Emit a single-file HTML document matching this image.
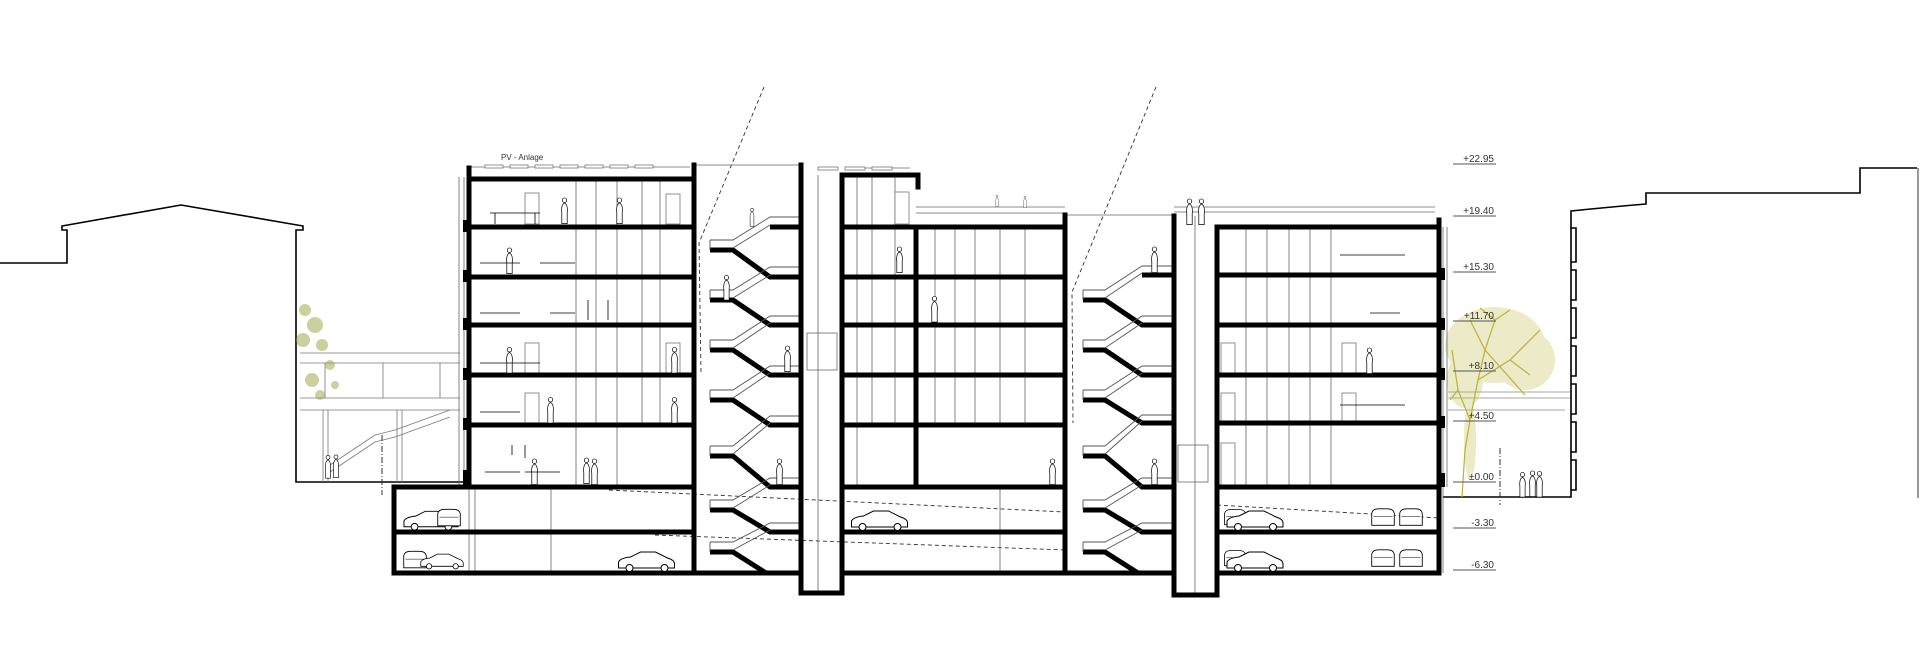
<!DOCTYPE html>
<html><head><meta charset="utf-8"><style>
html,body{margin:0;padding:0;background:#fff;}
svg{display:block;}
text{font-family:"Liberation Sans",sans-serif;fill:#333;}
</style></head><body>
<svg width="1920" height="669" viewBox="0 0 1920 669" xmlns="http://www.w3.org/2000/svg">
<defs>
<symbol id="car" viewBox="0 0 58 20"><path d="M1 17 L1 11 Q3 7 13 6 L23 1 L38 1 L50 7 Q57 9 57 13 L57 17 Z" fill="#fff" stroke="#000" stroke-width="1"/><circle cx="12" cy="17" r="3.5" fill="#fff" stroke="#000"/><circle cx="47" cy="17" r="3.5" fill="#fff" stroke="#000"/></symbol>
<symbol id="van" viewBox="0 0 30 22"><path d="M2 20 L2 6 Q3 1 10 1 L20 1 Q27 1 28 6 L28 20 Z" fill="#fff" stroke="#000"/><line x1="4" y1="10" x2="26" y2="10" stroke="#000" stroke-width="0.6"/></symbol>
<symbol id="p" viewBox="0 0 10 30"><circle cx="5" cy="3" r="2.5" fill="#fff" stroke="#000" stroke-width="0.8"/><path d="M2 29 V17 Q1 8 5 6 Q9 8 8 17 V29 Z" fill="#fff" stroke="#000" stroke-width="0.8"/></symbol>
</defs>

<!-- left neighbour -->
<path d="M0 263 H67 V230 H62 V226 L181 205 L303 226 V230 H296 V482 H465" fill="none" stroke="#000" stroke-width="1.6"/>
<g stroke="#777" stroke-width="0.8" fill="none">
<line x1="300" y1="353" x2="460" y2="353"/><line x1="300" y1="363" x2="460" y2="363"/>
<line x1="300" y1="398" x2="460" y2="398"/><line x1="300" y1="410" x2="460" y2="410"/>
<line x1="325" y1="363" x2="325" y2="398"/><line x1="383" y1="363" x2="383" y2="398"/><line x1="440" y1="363" x2="440" y2="398"/>
<line x1="323" y1="410" x2="323" y2="482"/><line x1="328" y1="410" x2="328" y2="482"/>
<line x1="397" y1="410" x2="397" y2="482"/><line x1="402" y1="410" x2="402" y2="482"/>
<path d="M330 465 L375 435 L395 430 L450 410"/><path d="M330 472 L375 442 L395 437 L450 417"/>
</g>
<line x1="382" y1="435" x2="382" y2="495" stroke="#333" stroke-dasharray="6 2 1 2"/>
<g fill="#9aa040" opacity="0.5">
<circle cx="305" cy="310" r="6"/><circle cx="315" cy="325" r="8"/><circle cx="303" cy="340" r="7"/><circle cx="322" cy="345" r="6"/><circle cx="330" cy="365" r="5"/><circle cx="312" cy="380" r="7"/><circle cx="320" cy="395" r="5"/><circle cx="335" cy="385" r="4"/>
</g>

<!-- right neighbour -->
<path d="M1443 497 H1571 V228 H1576 V262 H1571 V270 H1576 V300 H1571 V308 H1576 V338 H1571 V346 H1576 V376 H1571 V384 H1576 V414 H1571 V422 H1576 V452 H1571 V460 H1576 V490 H1571 V497" fill="none" stroke="#000" stroke-width="1.6"/>
<path d="M1571 228 V211 Q1610 207 1646 204 V193 H1860 V168 H1917" fill="none" stroke="#000" stroke-width="1.6"/>
<line x1="1918" y1="168" x2="1918" y2="498" stroke="#555" stroke-width="1.2"/>
<line x1="1500" y1="448" x2="1500" y2="505" stroke="#333" stroke-dasharray="6 2 1 2"/>
<g stroke="#888" stroke-width="0.8"><line x1="1448" y1="392" x2="1570" y2="392"/><line x1="1448" y1="398" x2="1570" y2="398"/><line x1="1448" y1="410" x2="1565" y2="410"/></g>
<!-- right tree -->
<g fill="#c2bd4a" opacity="0.3">
<ellipse cx="1495" cy="345" rx="50" ry="38"/><ellipse cx="1525" cy="360" rx="30" ry="30"/><ellipse cx="1465" cy="380" rx="18" ry="28"/><ellipse cx="1470" cy="440" rx="6" ry="40"/>
</g>
<g fill="none" stroke="#b8b23e" stroke-width="1.2">
<path d="M1462 497 L1465 450 L1470 420 L1478 380 L1485 350 L1495 320"/>
<path d="M1470 420 L1458 390 L1452 350"/><path d="M1478 380 L1510 360 L1540 330"/><path d="M1485 350 L1470 320"/><path d="M1485 350 L1525 395"/>
<path d="M1495 320 L1510 310 M1495 320 L1480 308 M1510 360 L1530 375 M1458 390 L1450 400"/>
</g>
<use href="#p" x="1518" y="472" width="9" height="26"/><use href="#p" x="1528" y="470" width="9" height="28"/><use href="#p" x="1535" y="471" width="9" height="27"/>
<use href="#p" x="324" y="455" width="8" height="24"/><use href="#p" x="332" y="454" width="8" height="25"/>

<!-- levels -->
<g stroke="#555" stroke-width="0.9">
<line x1="1453" y1="164" x2="1496" y2="164"/><line x1="1453" y1="216" x2="1496" y2="216"/><line x1="1453" y1="272" x2="1496" y2="272"/><line x1="1453" y1="321" x2="1496" y2="321"/><line x1="1453" y1="371" x2="1496" y2="371"/><line x1="1453" y1="421" x2="1496" y2="421"/><line x1="1453" y1="482" x2="1496" y2="482"/><line x1="1453" y1="528" x2="1496" y2="528"/><line x1="1453" y1="570" x2="1496" y2="570"/>
</g>
<g font-size="10" text-anchor="end">
<text x="1494" y="162">+22.95</text><text x="1494" y="214">+19.40</text><text x="1494" y="270">+15.30</text><text x="1494" y="319">+11.70</text><text x="1494" y="369">+8.10</text><text x="1494" y="419">+4.50</text><text x="1494" y="480">±0.00</text><text x="1494" y="526">-3.30</text><text x="1494" y="568">-6.30</text>
</g>

<!-- dashed sight lines -->
<g fill="none" stroke="#333" stroke-width="0.9" stroke-dasharray="4 3">
<path d="M764 87 L699 243 L701 373"/>
<path d="M1156 87 L1072 292 L1073 423"/>
<path d="M609 490 L1065 512"/><path d="M655 535 L1065 550"/><path d="M1217 505 L1439 518"/>
</g>

<!-- thin interior lines -->
<g stroke="#666" stroke-width="0.8" fill="none">
<line x1="459" y1="177" x2="459" y2="487"/><line x1="464" y1="177" x2="464" y2="487"/>
<line x1="1443" y1="227" x2="1443" y2="573"/><line x1="1447" y1="227" x2="1447" y2="487"/>
<path d="M576 179 V487 M596 179 V425 M617 179 V487 M642 179 V425 M660 179 V425"/>
<path d="M857 175 V487 M872 175 V425 M895 175 V425 M935 226 V425 M955 226 V425 M975 226 V425 M1000 226 V425 M1025 226 V425"/>
<path d="M1246 227 V487 M1267 227 V487 M1289 227 V487 M1310 227 V487 M1331 227 V487"/>
<path d="M469 487 V573 M475 487 V573 M551 487 V573 M1000 487 V573"/>
<line x1="916" y1="207" x2="1065" y2="207"/><line x1="916" y1="213" x2="1065" y2="213"/>
<line x1="1174" y1="207" x2="1435" y2="207"/><line x1="1174" y1="212" x2="1435" y2="212"/>
<line x1="470" y1="167" x2="690" y2="167"/><line x1="845" y1="168" x2="910" y2="168"/>
<line x1="818" y1="175" x2="818" y2="593"/><line x1="1195" y1="216" x2="1195" y2="595"/>
<rect x="807" y="333" width="30" height="37"/><rect x="1178" y="445" width="30" height="37"/>
<path d="M694 165 H801 M1065 215 H1174"/>
</g>
<g fill="#fff" stroke="#777" stroke-width="0.8">
<rect x="485" y="165" width="18" height="3"/><rect x="510" y="165" width="18" height="3"/><rect x="535" y="165" width="18" height="3"/><rect x="560" y="165" width="18" height="3"/><rect x="585" y="165" width="18" height="3"/><rect x="610" y="165" width="18" height="3"/><rect x="635" y="165" width="18" height="3"/>
<rect x="818" y="167" width="20" height="3"/><rect x="845" y="167" width="20" height="3"/><rect x="872" y="167" width="20" height="3"/>
<rect x="666" y="194" width="14" height="30"/><rect x="525" y="193" width="14" height="31"/><rect x="525" y="343" width="14" height="31"/><rect x="525" y="393" width="14" height="31"/><rect x="666" y="343" width="14" height="31"/>
<rect x="895" y="192" width="14" height="32"/><rect x="1221" y="443" width="14" height="42"/><rect x="1342" y="343" width="14" height="30"/><rect x="1342" y="393" width="14" height="30"/><rect x="1221" y="343" width="14" height="30"/><rect x="1221" y="393" width="14" height="30"/>
</g>
<text x="501" y="160" font-size="8">PV - Anlage</text>

<!-- stairs core 1 -->
<g fill="none" stroke="#000" stroke-width="5">
<path d="M710 250 H733 L770 277 H801"/><path d="M710 300 H733 L770 325 H801"/><path d="M710 350 H733 L770 375 H801"/><path d="M710 400 H733 L770 425 H801"/><path d="M710 456 H733 L770 487 H801"/><path d="M710 510 H733 L770 532 H801"/><path d="M710 552 H733 L766 573 H801"/>
<path d="M770 227 H801"/>
</g>
<g fill="none" stroke="#555" stroke-width="0.9">
<path d="M710 240 H733 L770 217 H801 M733 248 L770 225"/><path d="M710 290 H733 L770 267 H801 M733 298 L770 275"/><path d="M710 340 H733 L770 316 H801 M733 348 L770 323"/><path d="M710 390 H733 L770 366 H801 M733 398 L770 373"/><path d="M710 446 H733 L770 416 H801 M733 454 L770 423"/><path d="M710 500 H733 L770 478 H801 M733 508 L770 485"/><path d="M710 542 H733 L770 523 H801 M733 550 L770 530"/>
<path d="M710 240 V250 M710 290 V300 M710 340 V350 M710 390 V400 M710 446 V456 M710 500 V510 M710 542 V552"/>
</g>
<!-- stairs core 2 -->
<g fill="none" stroke="#000" stroke-width="5">
<path d="M1083 300 H1105 L1142 325 H1174"/><path d="M1083 350 H1105 L1142 375 H1174"/><path d="M1083 400 H1105 L1142 423 H1174"/><path d="M1083 456 H1105 L1142 487 H1174"/><path d="M1083 510 H1105 L1142 532 H1174"/><path d="M1083 552 H1105 L1138 573 H1174"/>
<path d="M1142 275 H1174"/>
</g>
<g fill="none" stroke="#555" stroke-width="0.9">
<path d="M1083 290 H1105 L1142 266 H1174 M1105 298 L1142 273"/><path d="M1083 340 H1105 L1142 316 H1174 M1105 348 L1142 323"/><path d="M1083 390 H1105 L1142 366 H1174 M1105 398 L1142 373"/><path d="M1083 446 H1105 L1142 415 H1174 M1105 454 L1142 421"/><path d="M1083 500 H1105 L1142 478 H1174 M1105 508 L1142 485"/><path d="M1083 542 H1105 L1142 523 H1174 M1105 550 L1142 530"/>
<path d="M1083 290 V300 M1083 340 V350 M1083 390 V400 M1083 446 V456 M1083 500 V510 M1083 542 V552"/>
</g>

<!-- structure: slabs and walls -->
<g stroke="#000" stroke-width="5" fill="none" stroke-linecap="square">
<path d="M469 168 V487"/>
<path d="M469 179 H694 M469 227 H694 M469 277 H694 M469 325 H694 M469 375 H694 M469 425 H694"/>
<path d="M394 487 H694 M394 532 H694 M394 573 H801"/>
<path d="M394 487 V573"/>
<path d="M694 165 V573"/>
<path d="M801 165 V593 H842 V175"/>
<path d="M842 175 H918 V187"/>
<path d="M842 227 H1065 M842 277 H1065 M842 325 H1065 M842 375 H1065 M842 425 H1065 M842 487 H1065 M842 532 H1065 M842 573 H1065"/>
<path d="M916 227 V487"/>
<path d="M1065 215 V573"/>
<path d="M1174 216 V595 H1217 V227"/>
<path d="M1066 573 H1174"/>
<path d="M1217 227 H1439 M1217 275 H1439 M1217 325 H1439 M1217 375 H1439 M1217 423 H1439 M1217 487 H1439 M1217 532 H1439 M1217 573 H1439"/>
<path d="M1439 220 V573"/>
</g>
<g fill="#000">
<rect x="463" y="220" width="7" height="12"/><rect x="463" y="270" width="7" height="12"/><rect x="463" y="318" width="7" height="12"/><rect x="463" y="368" width="7" height="12"/><rect x="463" y="418" width="7" height="12"/><rect x="463" y="470" width="7" height="17"/>
<rect x="1437" y="268" width="8" height="12"/><rect x="1437" y="318" width="8" height="12"/><rect x="1437" y="368" width="8" height="12"/><rect x="1437" y="416" width="8" height="12"/><rect x="1437" y="473" width="8" height="14"/>
</g>

<!-- people -->
<use href="#p" x="560" y="197" width="9" height="28"/><use href="#p" x="615" y="197" width="9" height="28"/>
<use href="#p" x="505" y="247" width="9" height="28"/><use href="#p" x="505" y="347" width="9" height="27"/>
<use href="#p" x="670" y="347" width="9" height="27"/><use href="#p" x="546" y="397" width="9" height="27"/>
<use href="#p" x="670" y="397" width="9" height="27"/><use href="#p" x="590" y="458" width="9" height="28"/>
<use href="#p" x="582" y="457" width="9" height="28"/><use href="#p" x="530" y="458" width="9" height="28"/>
<use href="#p" x="748" y="208" width="8" height="19"/><use href="#p" x="722" y="275" width="9" height="26"/>
<use href="#p" x="783" y="344" width="9" height="30"/><use href="#p" x="775" y="457" width="9" height="30"/>
<use href="#p" x="895" y="245" width="9" height="30"/><use href="#p" x="930" y="295" width="9" height="29"/>
<use href="#p" x="1150" y="246" width="9" height="28"/><use href="#p" x="1150" y="458" width="9" height="28"/>
<use href="#p" x="1185" y="198" width="9" height="28"/><use href="#p" x="1197" y="198" width="9" height="28"/>
<use href="#p" x="1365" y="347" width="9" height="28"/><use href="#p" x="1048" y="458" width="9" height="28"/>
<use href="#p" x="992" y="195" width="10" height="12"/><use href="#p" x="1020" y="196" width="10" height="12"/>

<!-- cars -->
<use href="#car" x="403" y="510" width="56" height="20"/>
<use href="#van" x="436" y="506" width="26" height="24"/>
<use href="#van" x="402" y="548" width="26" height="24"/>
<use href="#car" x="420" y="551" width="44" height="20"/>
<use href="#car" x="617" y="551" width="59" height="20"/>
<use href="#car" x="850" y="510" width="59" height="20"/>
<use href="#van" x="1223" y="505" width="24" height="25"/><use href="#car" x="1226" y="510" width="58" height="20"/>
<use href="#van" x="1370" y="505" width="26" height="25"/><use href="#van" x="1398" y="505" width="26" height="25"/>
<use href="#van" x="1223" y="546" width="24" height="25"/><use href="#car" x="1226" y="551" width="58" height="20"/>
<use href="#van" x="1370" y="546" width="26" height="25"/><use href="#van" x="1398" y="546" width="26" height="25"/>

<!-- furniture hints -->
<g stroke="#000" stroke-width="0.8" fill="none">
<path d="M490 213 H540 M495 213 V224 M535 213 V224"/><path d="M480 263 H520 M540 263 H575"/><path d="M480 313 H520 M550 313 H575"/><path d="M480 363 H540"/><path d="M480 412 H520"/><path d="M485 472 H520 M525 472 H560"/>
<path d="M1340 255 H1405 M1340 405 H1405"/><path d="M1370 313 H1400"/>
<path d="M588 300 V320 M608 300 V320 M512 445 V455 M525 445 V458"/>
</g>
</svg>
</body></html>
